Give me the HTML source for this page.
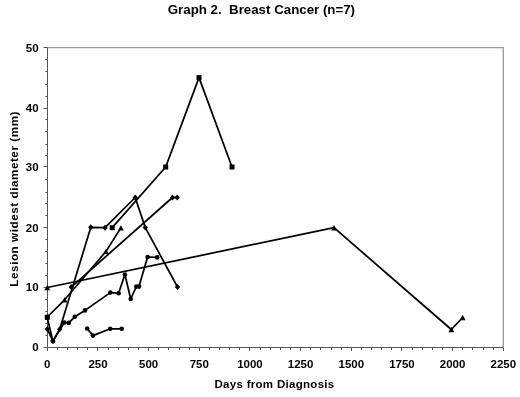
<!DOCTYPE html>
<html><head><meta charset="utf-8"><style>
html,body{margin:0;padding:0;background:#fff;}
svg{display:block;will-change:transform;}
text{font-family:"Liberation Sans",sans-serif;font-weight:bold;fill:#000;}
.tk{font-size:11.5px;}
.ttl{font-size:13.3px;}
.ax{font-size:11.5px;letter-spacing:0.3px;}
.ay{font-size:11.7px;letter-spacing:0.54px;}
</style></head><body>
<svg width="520" height="397" viewBox="0 0 520 397">
<rect width="520" height="397" fill="#fff"/>
<path d="M47.5 47.7H503.3V347.5" fill="none" stroke="#9a9a9a" stroke-width="1.3"/>
<path d="M47.5 47.5V347.5H503.5" fill="none" stroke="#555" stroke-width="1"/>
<path d="M43.5 347.5H47.5 M45.5 335.5H47.5 M45.5 323.5H47.5 M45.5 311.5H47.5 M45.5 299.5H47.5 M43.5 287.5H47.5 M45.5 275.5H47.5 M45.5 263.5H47.5 M45.5 251.5H47.5 M45.5 239.5H47.5 M43.5 227.5H47.5 M45.5 215.5H47.5 M45.5 203.5H47.5 M45.5 192.5H47.5 M45.5 179.5H47.5 M43.5 166.5H47.5 M45.5 155.5H47.5 M45.5 144.5H47.5 M45.5 131.5H47.5 M45.5 119.5H47.5 M43.5 108.5H47.5 M45.5 96.5H47.5 M45.5 84.5H47.5 M45.5 71.5H47.5 M45.5 59.5H47.5 M43.5 47.5H47.5 M47.5 347.5V351 M57.5 347.5V350 M67.5 347.5V350 M77.5 347.5V350 M87.5 347.5V350 M97.5 347.5V351 M108.5 347.5V350 M118.5 347.5V350 M128.5 347.5V350 M138.5 347.5V350 M148.5 347.5V351 M158.5 347.5V350 M168.5 347.5V350 M179.5 347.5V350 M189.5 347.5V350 M199.5 347.5V351 M209.5 347.5V350 M219.5 347.5V350 M229.5 347.5V350 M239.5 347.5V350 M249.5 347.5V351 M260.5 347.5V350 M270.5 347.5V350 M280.5 347.5V350 M290.5 347.5V350 M300.5 347.5V351 M310.5 347.5V350 M320.5 347.5V350 M331.5 347.5V350 M341.5 347.5V350 M351.5 347.5V351 M361.5 347.5V350 M371.5 347.5V350 M381.5 347.5V350 M391.5 347.5V350 M401.5 347.5V351 M412.5 347.5V350 M422.5 347.5V350 M432.5 347.5V350 M442.5 347.5V350 M452.5 347.5V351 M462.5 347.5V350 M472.5 347.5V350 M483.5 347.5V350 M493.5 347.5V350 M503.5 347.5V351" fill="none" stroke="#555" stroke-width="1"/>
<text x="38.6" y="351.30" text-anchor="end" class="tk">0</text>
<text x="38.6" y="291.10" text-anchor="end" class="tk">10</text>
<text x="38.6" y="231.70" text-anchor="end" class="tk">20</text>
<text x="38.6" y="170.80" text-anchor="end" class="tk">30</text>
<text x="38.6" y="112.40" text-anchor="end" class="tk">40</text>
<text x="38.6" y="51.60" text-anchor="end" class="tk">50</text>
<text x="47.30" y="367.8" text-anchor="middle" class="tk">0</text>
<text x="97.97" y="367.8" text-anchor="middle" class="tk">250</text>
<text x="148.63" y="367.8" text-anchor="middle" class="tk">500</text>
<text x="199.30" y="367.8" text-anchor="middle" class="tk">750</text>
<text x="249.97" y="367.8" text-anchor="middle" class="tk">1000</text>
<text x="300.63" y="367.8" text-anchor="middle" class="tk">1250</text>
<text x="351.30" y="367.8" text-anchor="middle" class="tk">1500</text>
<text x="401.97" y="367.8" text-anchor="middle" class="tk">1750</text>
<text x="452.63" y="367.8" text-anchor="middle" class="tk">2000</text>
<text x="503.30" y="367.8" text-anchor="middle" class="tk">2250</text>
<path d="M47.30 287.50 L334.00 227.70 L451.30 329.50 L462.70 317.50" fill="none" stroke="#000" stroke-width="1.75" stroke-linejoin="round"/>
<path d="M112.20 227.70 L165.70 167.00 L199.00 77.60 L232.00 167.00" fill="none" stroke="#000" stroke-width="1.75" stroke-linejoin="round"/>
<path d="M47.30 328.90 L52.90 341.10 L59.70 329.20 L90.80 227.30 L105.00 227.70 L135.20 197.50 L145.30 227.60 L177.50 287.00" fill="none" stroke="#000" stroke-width="1.75" stroke-linejoin="round"/>
<path d="M87.10 328.50 L92.90 335.60 L110.20 328.80 L121.70 328.80" fill="none" stroke="#000" stroke-width="1.75" stroke-linejoin="round"/>
<path d="M47.30 318.00 L52.90 341.10 L64.30 322.50 L68.80 322.90 L74.80 316.80 L85.00 310.40 L110.30 292.60 L118.60 293.20 L124.90 274.50 L130.70 299.00 L136.30 286.60 L139.00 286.60 L147.60 257.00 L157.20 257.40" fill="none" stroke="#000" stroke-width="1.75" stroke-linejoin="round"/>
<path d="M47.30 317.00 L64.60 299.80 L106.00 251.40 L120.90 227.90" fill="none" stroke="#000" stroke-width="1.75" stroke-linejoin="round"/>
<path d="M71.30 287.10 L172.50 197.50 L177.20 197.50" fill="none" stroke="#000" stroke-width="1.75" stroke-linejoin="round"/>
<g fill="#000"><path d="M47.30 284.80L50.20 290.20L44.40 290.20Z"/><path d="M334.00 225.00L336.90 230.40L331.10 230.40Z"/><path d="M451.30 326.80L454.20 332.20L448.40 332.20Z"/><path d="M462.70 314.80L465.60 320.20L459.80 320.20Z"/><rect x="109.70" y="225.20" width="5" height="5"/><rect x="163.20" y="164.50" width="5" height="5"/><rect x="196.50" y="75.10" width="5" height="5"/><rect x="229.50" y="164.50" width="5" height="5"/><path d="M47.30 325.90L50.00 328.90L47.30 331.90L44.60 328.90Z"/><path d="M52.90 338.10L55.60 341.10L52.90 344.10L50.20 341.10Z"/><path d="M59.70 326.20L62.40 329.20L59.70 332.20L57.00 329.20Z"/><path d="M90.80 224.30L93.50 227.30L90.80 230.30L88.10 227.30Z"/><path d="M105.00 224.70L107.70 227.70L105.00 230.70L102.30 227.70Z"/><path d="M135.20 194.50L137.90 197.50L135.20 200.50L132.50 197.50Z"/><path d="M145.30 224.60L148.00 227.60L145.30 230.60L142.60 227.60Z"/><path d="M177.50 284.00L180.20 287.00L177.50 290.00L174.80 287.00Z"/><circle cx="87.10" cy="328.50" r="2.3"/><circle cx="92.90" cy="335.60" r="2.3"/><circle cx="110.20" cy="328.80" r="2.3"/><circle cx="121.70" cy="328.80" r="2.3"/><circle cx="47.30" cy="318.00" r="2.3"/><circle cx="52.90" cy="341.10" r="2.3"/><circle cx="64.30" cy="322.50" r="2.3"/><circle cx="68.80" cy="322.90" r="2.3"/><circle cx="74.80" cy="316.80" r="2.3"/><circle cx="85.00" cy="310.40" r="2.3"/><circle cx="110.30" cy="292.60" r="2.3"/><circle cx="118.60" cy="293.20" r="2.3"/><circle cx="124.90" cy="274.50" r="2.3"/><circle cx="130.70" cy="299.00" r="2.3"/><circle cx="136.30" cy="286.60" r="2.3"/><circle cx="139.00" cy="286.60" r="2.3"/><circle cx="147.60" cy="257.00" r="2.3"/><circle cx="157.20" cy="257.40" r="2.3"/><path d="M64.60 297.10L67.50 302.50L61.70 302.50Z"/><path d="M106.00 248.70L108.90 254.10L103.10 254.10Z"/><path d="M120.90 225.20L123.80 230.60L118.00 230.60Z"/><path d="M71.30 284.10L74.00 287.10L71.30 290.10L68.60 287.10Z"/><path d="M172.50 194.50L175.20 197.50L172.50 200.50L169.80 197.50Z"/><path d="M177.20 194.50L179.90 197.50L177.20 200.50L174.50 197.50Z"/><rect x="44.80" y="314.70" width="5" height="5"/></g>
<text x="261.4" y="13.8" text-anchor="middle" class="ttl">Graph 2.&#160; Breast Cancer (n=7)</text>
<text x="274.5" y="388.3" text-anchor="middle" class="ax">Days from Diagnosis</text>
<text transform="translate(17.6 198.8) rotate(-90)" text-anchor="middle" class="ay">Lesion widest diameter (mm)</text>
</svg>
</body></html>
